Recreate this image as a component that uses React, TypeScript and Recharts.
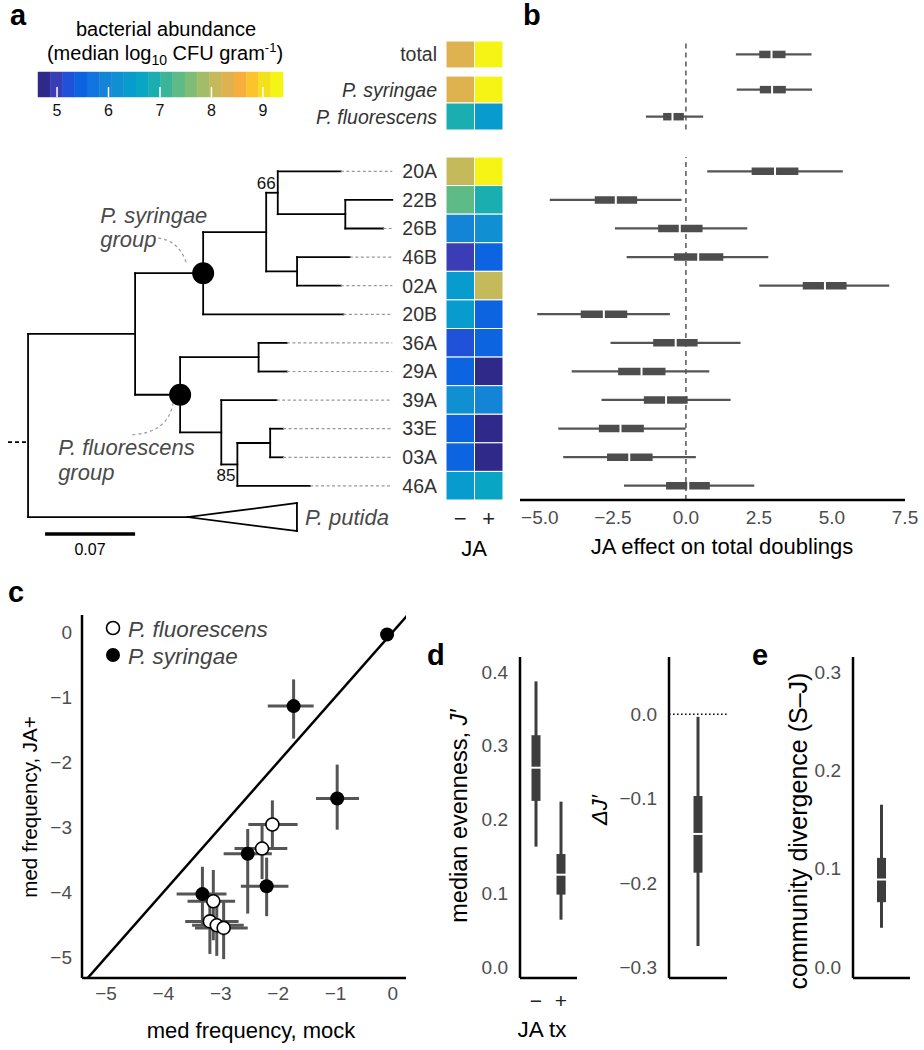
import React from "react";
import {
  ComposedChart,
  Scatter,
  XAxis,
  YAxis,
  ReferenceLine,
  ReferenceArea,
  ErrorBar,
} from "recharts";

const FONT = '"Liberation Sans", Arial, Helvetica, sans-serif';
const PAGE_W = 924;
const PAGE_H = 1050;
const INK = "#4d4d4d";

// colour key (stepped, like the printed key)
const keyMin = 4.63;
const keyStep = 0.238;
const keyColors = [
  "#2f2a8a", "#3a3db6", "#1f52d8", "#0c64e0", "#1274de",
  "#1484d6", "#1090d2", "#089cce", "#08a6c4", "#1aaeb0",
  "#3cb49a", "#5eba86", "#80bd76", "#a2bc68", "#c4ba5c",
  "#deb24e", "#f8ae3c", "#fcc42c", "#f4e01c", "#f6f414",
];
const keyTicks = [5, 6, 7, 8, 9];

// strains, top to bottom
const strains = ["20A", "22B", "26B", "46B", "02A", "20B", "36A", "29A", "39A", "33E", "03A", "46A"];
const cfuMock = [8.05, 7.35, 5.9, 5.0, 6.5, 6.5, 5.3, 5.5, 6.15, 5.55, 5.45, 6.4];
const cfuJA = [9.3, 6.9, 6.1, 5.45, 8.05, 5.45, 5.4, 4.75, 6.05, 4.8, 4.8, 6.55];

const groupNames = ["total", "P. syringae", "P. fluorescens"];
const groupCfuMock = [8.35, 8.35, 6.85];
const groupCfuJA = [9.3, 9.3, 6.5];

// JA effect on total doublings: outer interval, inner interval, median
const effLo = [0.73, -4.66, -2.43, -2.03, 2.51, -5.09, -2.58, -3.91, -2.89, -4.37, -4.2, -2.12];
const effQ1 = [2.25, -3.12, -0.95, -0.41, 4.0, -3.6, -1.12, -2.32, -1.44, -2.98, -2.7, -0.68];
const effMed = [3.05, -2.4, -0.21, 0.42, 4.76, -2.81, -0.35, -1.52, -0.68, -2.24, -1.94, 0.08];
const effQ3 = [3.85, -1.67, 0.57, 1.28, 5.5, -2.01, 0.4, -0.7, 0.06, -1.44, -1.14, 0.82];
const effHi = [5.37, -0.15, 2.1, 2.82, 6.96, -0.55, 1.87, 0.8, 1.53, -0.01, 0.34, 2.34];
const grpEffLo = [1.71, 1.74, -1.37];
const grpEffQ1 = [2.51, 2.53, -0.78];
const grpEffMed = [2.93, 2.95, -0.46];
const grpEffQ3 = [3.41, 3.42, -0.07];
const grpEffHi = [4.3, 4.32, 0.59];

// phylogeny: [node, parent, branch length]
const treeEdges: [string, string, number][] = [
  ["A", "root", 0.0832],
  ["putida", "root", 0.124],
  ["S", "A", 0.0529],
  ["F", "A", 0.035],
  ["P", "S", 0.049],
  ["20B", "S", 0.109],
  ["N66", "P", 0.009],
  ["Q", "P", 0.024],
  ["20A", "N66", 0.049],
  ["N22", "N66", 0.0525],
  ["22B", "N22", 0.0365],
  ["26B", "N22", 0.0295],
  ["46B", "Q", 0.041],
  ["02A", "Q", 0.034],
  ["N36", "F", 0.061],
  ["N39", "F", 0.032],
  ["36A", "N36", 0.022],
  ["29A", "N36", 0.022],
  ["39A", "N39", 0.043],
  ["N85", "N39", 0.0125],
  ["N33", "N85", 0.0255],
  ["46A", "N85", 0.0565],
  ["33E", "N33", 0.01],
  ["03A", "N33", 0.01],
];
const bootLabels = [
  { node: "N66", value: "66", place: "above" },
  { node: "N85", value: "85", place: "below" },
];
const cladeMarks = [
  { node: "S", name: "P. syringae", side: "above" },
  { node: "F", name: "P. fluorescens", side: "below" },
];
const putidaRow = 12.09;
const putidaDepth = 0.085;
const putidaSpread = 0.49;
const rootStubRow = 9.97;
const leaderEnd = 0.2831;
const scaleBarStart = 0.0132;
const scaleBarLen = 0.07;
const scaleBarRow = 13.18;

// panel c: median frequency (log10), mock vs JA+
const freqGroup = ["syr", "syr", "syr", "flu", "flu", "syr", "syr", "syr", "flu", "flu", "flu", "flu"];
const freqMock = [-0.1, -1.73, -0.97, -2.1, -2.28, -2.53, -2.2, -3.32, -3.13, -3.19, -3.07, -2.95];
const freqMockLo = [-0.12, -2.18, -1.34, -2.52, -2.76, -2.95, -2.65, -3.77, -3.58, -3.62, -3.5, -3.45];
const freqMockHi = [-0.08, -1.38, -0.59, -1.66, -1.84, -2.11, -1.82, -2.9, -2.75, -2.69, -2.6, -2.53];
const freqJA = [-0.04, -1.14, -2.56, -2.96, -3.33, -3.41, -3.91, -4.03, -4.14, -4.45, -4.51, -4.55];
const freqJALo = [-0.06, -1.64, -3.04, -3.35, -3.8, -4.33, -4.37, -4.49, -4.74, -4.95, -4.98, -5.03];
const freqJAHi = [-0.02, -0.73, -2.04, -2.59, -2.95, -3.03, -3.47, -3.61, -3.66, -4.05, -4.1, -4.13];

// panel d/e boxes: [whisker lo, q1, median, q3, whisker hi]
const evenTx = ["\u2212", "+"];
const evenBox = [
  [0.163, 0.225, 0.27, 0.314, 0.387],
  [0.064, 0.098, 0.125, 0.153, 0.224],
];
const deltaBox = [[-0.275, -0.188, -0.142, -0.097, -0.003]];
const divergBox = [[0.04, 0.066, 0.089, 0.111, 0.165]];

const layer: React.CSSProperties = { position: "absolute", left: 0, top: 0 };
const axisLine = { stroke: "#000", strokeWidth: 2.5 };
const tickStyle = { fontSize: 19, fill: INK };

const fmt = (d: number) => (v: number) =>
  (Math.abs(v) < 1e-9 ? 0 : v).toFixed(d).replace("-", "\u2212");

// every chart covers the whole page; margins place the plot box
function frame(x0: number, y0: number, x1: number, y1: number, yW = 0, xH = 0) {
  return {
    width: PAGE_W,
    height: PAGE_H,
    margin: { left: x0 - yW, top: y0, right: PAGE_W - x1, bottom: PAGE_H - y1 - xH },
  };
}

function keyColor(v: number) {
  const i = Math.floor((v - keyMin) / keyStep);
  return keyColors[Math.max(0, Math.min(keyColors.length - 1, i))];
}

const KeyTickMark = (p: any) => (
  <line x1={p.cx} x2={p.cx} y1={p.cy - 10} y2={p.cy} stroke="#fff" strokeWidth={1.5} />
);
const MedianV = (p: any) => <rect x={p.cx - 1} y={p.cy - 4.5} width={2} height={9} fill="#fff" />;
const MedianH = (p: any) => <rect x={p.cx - 5.5} y={p.cy - 1} width={11} height={2} fill="#fff" />;

function KeyChart() {
  const keyMax = keyMin + keyColors.length * keyStep;
  return (
    <div style={layer}>
      <ComposedChart {...frame(38, 72, 283, 97, 0, 30)}>
        <XAxis type="number" dataKey="x" domain={[keyMin, keyMax]} ticks={keyTicks} allowDataOverflow
          axisLine={false} tickLine={false} interval={0} height={30} tickMargin={2}
          tick={{ fontSize: 16, fill: "#111" }} />
        <YAxis type="number" dataKey="y" domain={[0, 1]} hide allowDataOverflow />
        {keyColors.map((c, i) => (
          <ReferenceArea key={i} x1={keyMin + i * keyStep} x2={keyMin + (i + 1) * keyStep} y1={0} y2={1}
            fill={c} fillOpacity={1} stroke={c} strokeWidth={0.5} ifOverflow="visible" />
        ))}
        <Scatter data={keyTicks.map((t) => ({ x: t, y: 0 }))} dataKey="y" shape={KeyTickMark} isAnimationActive={false} />
      </ComposedChart>
    </div>
  );
}

const groupRowPos = [0, 1.3, 2.3];

const GroupTick = (p: any) => {
  const i = groupRowPos.findIndex((r) => Math.abs(r + 0.5 - p.payload.value) < 0.01);
  return (
    <text x={p.x} y={p.y} dy={7} textAnchor="end" fontSize={19.5} fill="#333"
      fontStyle={i > 0 ? "italic" : "normal"}>
      {groupNames[i]}
    </text>
  );
};

function heatCells(mock: number[], ja: number[], rows: number[], prefix: string) {
  return rows.flatMap((r, i) =>
    [mock[i], ja[i]].map((v, c) => (
      <ReferenceArea key={`${prefix}${i}-${c}`} x1={c} x2={c + 1} y1={r} y2={r + 1}
        fill={keyColor(v)} fillOpacity={1} stroke="#fff" strokeWidth={1} ifOverflow="visible" />
    ))
  );
}

function HeatTop() {
  return (
    <div style={layer}>
      <ComposedChart {...frame(446, 41, 503, 130, 170, 0)}>
        <XAxis type="number" dataKey="x" domain={[0, 2]} hide allowDataOverflow />
        <YAxis type="number" dataKey="y" domain={[0, 3.3]} reversed allowDataOverflow width={170}
          axisLine={false} tickLine={false} ticks={groupRowPos.map((r) => r + 0.5)} interval={0}
          tickMargin={3} tick={(p: any) => <GroupTick {...p} />} />
        {heatCells(groupCfuMock, groupCfuJA, groupRowPos, "g")}
      </ComposedChart>
    </div>
  );
}

function HeatBottom() {
  return (
    <div style={layer}>
      <ComposedChart {...frame(446, 157, 503, 500, 60, 40)}>
        <XAxis type="number" dataKey="x" domain={[0, 2]} allowDataOverflow ticks={[0.5, 1.5]} interval={0}
          tickFormatter={(v: number) => (v < 1 ? "\u2212" : "+")} axisLine={false} tickLine={false}
          height={40} tickMargin={4} tick={{ fontSize: 22, fill: "#222" }} />
        <YAxis type="number" dataKey="y" domain={[0, 12]} reversed allowDataOverflow width={60}
          axisLine={false} tickLine={false} ticks={strains.map((_, i) => i + 0.5)} interval={0}
          tickFormatter={(v: number) => strains[Math.floor(v)]} tickMargin={3}
          tick={{ fontSize: 19.5, fill: "#333" }} />
        {heatCells(cfuMock, cfuJA, strains.map((_, i) => i), "s")}
      </ComposedChart>
    </div>
  );
}

function layoutTree() {
  const nodes: Record<string, any> = { root: { id: "root", x: 0, y: 0, kids: [] as string[] } };
  treeEdges.forEach(([id, parent, len]) => (nodes[id] = { id, parent, len, x: 0, y: 0, kids: [] }));
  treeEdges.forEach(([id, parent]) => nodes[parent].kids.push(id));
  const place = (id: string, x: number): number => {
    const n = nodes[id];
    n.x = x;
    if (n.kids.length === 0) {
      n.y = (id === "putida" ? putidaRow : strains.indexOf(id)) + 0.5;
    } else {
      const ys = n.kids.map((k: string) => place(k, x + nodes[k].len));
      n.y = (ys[0] + ys[ys.length - 1]) / 2;
    }
    return n.y;
  };
  place("root", 0);
  return nodes;
}

const CladeMark = (p: any) => {
  const { cx, cy, payload } = p;
  const up = payload.side === "above";
  const tx = up ? -103 : -122;
  const arc = up
    ? `M${cx - 45},${cy - 35} Q${cx - 25},${cy - 33} ${cx - 17},${cy - 11}`
    : `M${cx - 48},${cy + 40} Q${cx - 12},${cy + 38} ${cx - 7},${cy + 8}`;
  return (
    <g>
      <path d={arc} fill="none" stroke="#999" strokeWidth={1.2} strokeDasharray="3 3" />
      <circle cx={cx} cy={cy} r={11} fill="#000" />
      <text x={cx + tx} y={cy + (up ? -50 : 60)} fontSize={22} fontStyle="italic" fill="#4a4a4a">
        {payload.name}
      </text>
      <text x={cx + tx} y={cy + (up ? -26 : 85)} fontSize={22} fontStyle="italic" fill="#4a4a4a">
        group
      </text>
    </g>
  );
};

const BootLabel = (p: any) => (
  <text x={p.cx - 2} y={p.payload.place === "above" ? p.cy - 4 : p.cy + 17} textAnchor="end"
    fontSize={17} fill="#111">
    {p.payload.value}
  </text>
);

const PutidaLabel = (p: any) => (
  <text x={p.cx + 8} y={p.cy + 8} fontSize={22} fontStyle="italic" fill="#4a4a4a">P. putida</text>
);

function TreeChart() {
  const nodes = layoutTree();
  const line = { stroke: "#000", strokeWidth: 1.8, strokeLinecap: "square" as const, ifOverflow: "visible" as const };
  const segs: React.ReactNode[] = [];
  Object.values(nodes).forEach((n: any) => {
    if (n.parent) {
      const p = nodes[n.parent];
      segs.push(<ReferenceLine key={`h${n.id}`} segment={[{ x: p.x, y: n.y }, { x: n.x, y: n.y }]} {...line} />);
    }
    if (n.kids.length) {
      const ys = n.kids.map((k: string) => nodes[k].y);
      segs.push(
        <ReferenceLine key={`v${n.id}`}
          segment={[{ x: n.x, y: Math.min(...ys) }, { x: n.x, y: Math.max(...ys) }]} {...line} />
      );
    }
  });
  strains.forEach((s) => {
    const n = nodes[s];
    if (n.x < leaderEnd - 0.002)
      segs.push(
        <ReferenceLine key={`l${s}`} segment={[{ x: n.x, y: n.y }, { x: leaderEnd, y: n.y }]}
          stroke="#999" strokeWidth={1.2} strokeDasharray="3 2.5" ifOverflow="visible" />
      );
  });
  const pu = nodes.putida;
  const tipX = pu.x + putidaDepth;
  return (
    <div style={layer}>
      <ComposedChart {...frame(8, 157, 414, 557.4, 0, 0)}>
        <XAxis type="number" dataKey="x" domain={[-0.0156, 0.3]} hide allowDataOverflow />
        <YAxis type="number" dataKey="y" domain={[0, 14]} reversed hide allowDataOverflow />
        {segs}
        <ReferenceLine segment={[{ x: -0.0156, y: rootStubRow }, { x: 0, y: rootStubRow }]}
          stroke="#000" strokeWidth={1.8} strokeDasharray="4 3" ifOverflow="visible" />
        <ReferenceLine segment={[{ x: pu.x, y: pu.y }, { x: tipX, y: pu.y - putidaSpread }]} {...line} />
        <ReferenceLine segment={[{ x: pu.x, y: pu.y }, { x: tipX, y: pu.y + putidaSpread }]} {...line} />
        <ReferenceLine segment={[{ x: tipX, y: pu.y - putidaSpread }, { x: tipX, y: pu.y + putidaSpread }]} {...line} />
        <ReferenceLine segment={[{ x: scaleBarStart, y: scaleBarRow }, { x: scaleBarStart + scaleBarLen, y: scaleBarRow }]}
          stroke="#000" strokeWidth={3.5} ifOverflow="visible" />
        <Scatter data={[{ x: tipX, y: pu.y }]} dataKey="y" shape={PutidaLabel} isAnimationActive={false} />
        <Scatter data={cladeMarks.map((m) => ({ ...m, x: nodes[m.node].x, y: nodes[m.node].y }))}
          dataKey="y" shape={CladeMark} isAnimationActive={false} />
        <Scatter data={bootLabels.map((b) => ({ ...b, x: nodes[b.node].x, y: nodes[b.node].y }))}
          dataKey="y" shape={BootLabel} isAnimationActive={false} />
      </ComposedChart>
    </div>
  );
}

function intervalLines(lo: number[], q1: number[], q3: number[], hi: number[], ys: number[], prefix: string) {
  return ys.flatMap((y, i) => [
    <ReferenceLine key={`${prefix}w${i}`} segment={[{ x: lo[i], y }, { x: hi[i], y }]}
      stroke="#555" strokeWidth={2.2} ifOverflow="visible" />,
    <ReferenceLine key={`${prefix}b${i}`} segment={[{ x: q1[i], y }, { x: q3[i], y }]}
      stroke={INK} strokeWidth={7.5} ifOverflow="visible" />,
  ]);
}

const effDomain = [-5.68, 7.5];

function EffectTop() {
  const ys = groupRowPos.map((r) => r + 0.5);
  return (
    <div style={layer}>
      <ComposedChart {...frame(520, 42, 905, 137, 0, 0)}>
        <XAxis type="number" dataKey="x" domain={effDomain} allowDataOverflow tick={false} tickLine={false}
          axisLine={axisLine} height={0} />
        <YAxis type="number" dataKey="y" domain={[0.04, 3.55]} reversed allowDataOverflow tick={false}
          tickLine={false} axisLine={axisLine} width={0} />
        <ReferenceLine segment={[{ x: 0, y: 0.1 }, { x: 0, y: 3.3 }]} stroke="#555" strokeWidth={1.5}
          strokeDasharray="5 4" ifOverflow="visible" />
        {intervalLines(grpEffLo, grpEffQ1, grpEffQ3, grpEffHi, ys, "g")}
        <Scatter data={grpEffMed.map((m, i) => ({ x: m, y: ys[i] }))} dataKey="y" shape={MedianV} isAnimationActive={false} />
      </ComposedChart>
    </div>
  );
}

function EffectBottom() {
  const ys = strains.map((_, i) => i + 0.5);
  return (
    <div style={layer}>
      <ComposedChart {...frame(520, 157, 905, 500, 0, 40)}>
        <XAxis type="number" dataKey="x" domain={effDomain} allowDataOverflow ticks={[-5, -2.5, 0, 2.5, 5, 7.5]}
          interval={0} tickFormatter={fmt(1)} tickLine={false} axisLine={axisLine} height={40}
          tickMargin={5} tick={tickStyle} />
        <YAxis type="number" dataKey="y" domain={[0, 12]} reversed allowDataOverflow tick={false}
          tickLine={false} axisLine={axisLine} width={0} />
        <ReferenceLine x={0} stroke="#555" strokeWidth={1.5} strokeDasharray="5 4" ifOverflow="visible" />
        {intervalLines(effLo, effQ1, effQ3, effHi, ys, "s")}
        <Scatter data={effMed.map((m, i) => ({ x: m, y: ys[i] }))} dataKey="y" shape={MedianV} isAnimationActive={false} />
      </ComposedChart>
    </div>
  );
}

const OpenDot = (p: any) => <circle cx={p.cx} cy={p.cy} r={6.5} fill="#fff" stroke="#000" strokeWidth={1.6} />;
const FilledDot = (p: any) => <circle cx={p.cx} cy={p.cy} r={7} fill="#000" />;

function FreqChart() {
  const pts = freqMock.map((x, i) => ({
    x,
    y: freqJA[i],
    group: freqGroup[i],
    ex: [x - freqMockLo[i], freqMockHi[i] - x],
    ey: [freqJA[i] - freqJALo[i], freqJAHi[i] - freqJA[i]],
  }));
  const ticks = [-5, -4, -3, -2, -1, 0];
  return (
    <div style={layer}>
      <ComposedChart {...frame(82, 615, 406, 978, 60, 30)}>
        <XAxis type="number" dataKey="x" domain={[-5.42, 0.23]} allowDataOverflow ticks={ticks} interval={0}
          tickFormatter={fmt(0)} tickLine={false} axisLine={axisLine} height={30} tickMargin={3} tick={tickStyle} />
        <YAxis type="number" dataKey="y" domain={[-5.32, 0.26]} allowDataOverflow ticks={ticks} interval={0}
          tickFormatter={fmt(0)} tickLine={false} axisLine={axisLine} width={60} tickMargin={4} tick={tickStyle} />
        <ReferenceLine segment={[{ x: -5.45, y: -5.45 }, { x: 0.3, y: 0.3 }]} stroke="#000" strokeWidth={2.5}
          ifOverflow="hidden" />
        <Scatter data={pts} dataKey="y" shape={() => <g />} isAnimationActive={false}>
          <ErrorBar dataKey="ex" direction="x" width={0} stroke="#555" strokeWidth={3} />
          <ErrorBar dataKey="ey" direction="y" width={0} stroke="#555" strokeWidth={3} />
        </Scatter>
        <Scatter data={pts.filter((p) => p.group === "flu")} dataKey="y" shape={OpenDot} isAnimationActive={false} />
        <Scatter data={pts.filter((p) => p.group === "syr")} dataKey="y" shape={FilledDot} isAnimationActive={false} />
      </ComposedChart>
    </div>
  );
}

function BoxPanel(props: {
  x0: number; x1: number; xDomain: number[]; boxes: number[][]; labels?: string[];
  yDomain: number[]; yTicks: number[]; zeroLine?: boolean;
}) {
  const { x0, x1, xDomain, boxes, labels, yDomain, yTicks, zeroLine } = props;
  const xs = boxes.map((_, i) => i + 1);
  return (
    <div style={layer}>
      <ComposedChart {...frame(x0, 657, x1, 978, 60, 40)}>
        <XAxis type="number" dataKey="x" domain={xDomain} allowDataOverflow ticks={labels ? xs : []} interval={0}
          tickFormatter={(v: number) => (labels ? labels[v - 1] : "")} tickLine={false} axisLine={axisLine}
          height={40} tickMargin={9} tick={labels ? { fontSize: 21, fill: "#222" } : false} />
        <YAxis type="number" dataKey="y" domain={yDomain} allowDataOverflow ticks={yTicks} interval={0}
          tickFormatter={fmt(1)} tickLine={false} axisLine={axisLine} width={60} tickMargin={6} tick={tickStyle} />
        {zeroLine && (
          <ReferenceLine y={0} stroke="#000" strokeWidth={1.5} strokeDasharray="1.5 2.5" ifOverflow="visible" />
        )}
        {boxes.flatMap((b, i) => [
          <ReferenceLine key={`w${i}`} segment={[{ x: xs[i], y: b[0] }, { x: xs[i], y: b[4] }]}
            stroke="#3d3d3d" strokeWidth={3} ifOverflow="visible" />,
          <ReferenceLine key={`b${i}`} segment={[{ x: xs[i], y: b[1] }, { x: xs[i], y: b[3] }]}
            stroke="#3d3d3d" strokeWidth={9} ifOverflow="visible" />,
        ])}
        <Scatter data={boxes.map((b, i) => ({ x: xs[i], y: b[2] }))} dataKey="y" shape={MedianH} isAnimationActive={false} />
      </ComposedChart>
    </div>
  );
}

function Annotations() {
  const letter = { fontSize: 29, fontWeight: "bold" as const, fill: "#000" };
  return (
    <svg width={PAGE_W} height={PAGE_H} style={{ position: "absolute", left: 0, top: 0 }} fontFamily={FONT}>
      <text x={10} y={25} {...letter}>a</text>
      <text x={523} y={25} {...letter}>b</text>
      <text x={8} y={602} {...letter}>c</text>
      <text x={427} y={665} {...letter}>d</text>
      <text x={752} y={665} {...letter}>e</text>

      <text x={166} y={36} fontSize={20} textAnchor="middle">bacterial abundance</text>
      <text x={165} y={60} fontSize={20} textAnchor="middle">
        (median log<tspan fontSize={14} dy={5}>10</tspan>
        <tspan dy={-5}> CFU gram</tspan>
        <tspan fontSize={13} dy={-8}>-1</tspan>
        <tspan dy={8}>)</tspan>
      </text>

      <text x={90} y={555} fontSize={16} textAnchor="middle">0.07</text>
      <text x={474} y={556} fontSize={22} textAnchor="middle">JA</text>
      <text x={722} y={554} fontSize={22} textAnchor="middle">JA effect on total doublings</text>

      <circle cx={113} cy={628} r={6.5} fill="#fff" stroke="#000" strokeWidth={1.6} />
      <text x={128} y={637} fontSize={22.5} fontStyle="italic" fill="#444">P. fluorescens</text>
      <circle cx={113} cy={655} r={7} fill="#000" />
      <text x={128} y={664} fontSize={22.5} fontStyle="italic" fill="#444">P. syringae</text>

      <text x={251} y={1038} fontSize={22} textAnchor="middle">med frequency, mock</text>
      <text transform="translate(37,807) rotate(-90)" fontSize={20.5} textAnchor="middle">med frequency, JA+</text>

      <text x={542} y={1037} fontSize={22.5} textAnchor="middle">JA tx</text>
      <text transform="translate(467,816) rotate(-90)" fontSize={23.5} textAnchor="middle">
        median evenness, <tspan fontStyle="italic">J′</tspan>
      </text>
      <text transform="translate(607,810) rotate(-90)" fontSize={22} textAnchor="middle" fontStyle="italic">ΔJ′</text>
      <text transform="translate(807,831) rotate(-90)" fontSize={25} textAnchor="middle">community divergence (S–J)</text>
    </svg>
  );
}

export default function App() {
  return (
    <div style={{ position: "absolute", left: 0, top: 0, width: PAGE_W, height: PAGE_H, background: "#fff", fontFamily: FONT, overflow: "hidden" }}>
      <KeyChart />
      <HeatTop />
      <HeatBottom />
      <TreeChart />
      <EffectTop />
      <EffectBottom />
      <FreqChart />
      <BoxPanel x0={520} x1={577} xDomain={[0.36, 2.64]} boxes={evenBox} labels={evenTx}
        yDomain={[-0.015, 0.42]} yTicks={[0, 0.1, 0.2, 0.3, 0.4]} />
      <BoxPanel x0={669} x1={727} xDomain={[0, 2]} boxes={deltaBox}
        yDomain={[-0.313, 0.068]} yTicks={[-0.3, -0.2, -0.1, 0]} zeroLine />
      <BoxPanel x0={853} x1={910} xDomain={[0, 2]} boxes={divergBox}
        yDomain={[-0.011, 0.315]} yTicks={[0, 0.1, 0.2, 0.3]} />
      <Annotations />
    </div>
  );
}
